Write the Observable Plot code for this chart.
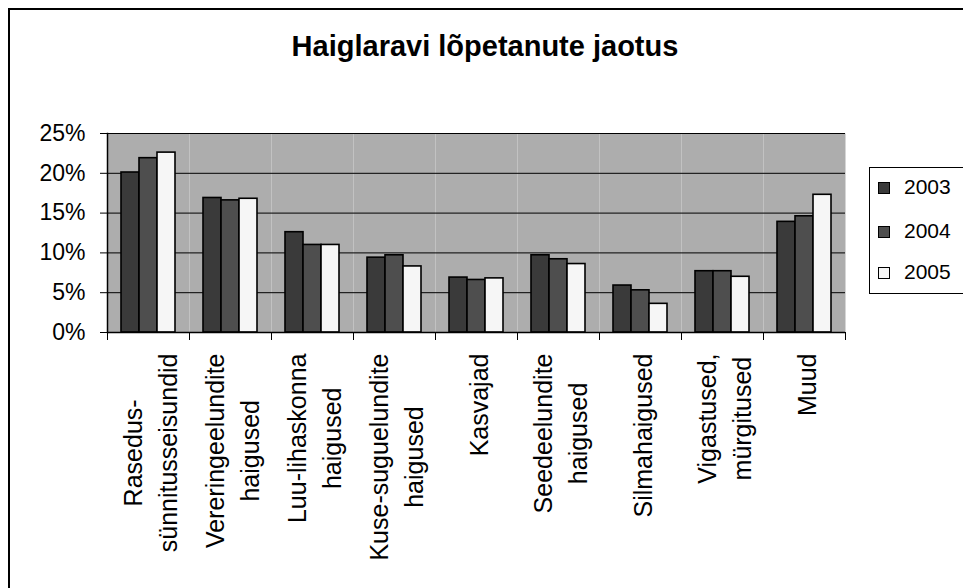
<!DOCTYPE html>
<html>
<head>
<meta charset="utf-8">
<script src="https://cdn.jsdelivr.net/npm/d3@7"></script>
<script src="https://cdn.jsdelivr.net/npm/@observablehq/plot@0.6"></script>
<style>
  html, body { margin: 0; padding: 0; background: #fff; overflow: hidden; }
  #wrap { position: relative; width: 963px; height: 588px; font-family: "Liberation Sans", Arial, sans-serif; }
  #border { position: absolute; left: 8px; top: 8px; width: 1000px; height: 1000px; border-left: 2px solid #000; border-top: 2px solid #000; }
  #title { position: absolute; left: 0; top: 32px; width: 970px; text-align: center; font-weight: bold; font-size: 29px; line-height: 29px; color: #000; }
  #chart { position: absolute; left: 0; top: 0; }
  #legend { position: absolute; left: 869px; top: 167px; width: 120px; height: 125px; border: 1px solid #000; background: #fff; }
  .row { position: absolute; left: 0; font-size: 21px; line-height: 21px; color: #000; white-space: nowrap; }
  .sw { position: absolute; left: 8px; top: 6px; width: 10px; height: 10px; border: 1px solid #000; }
  .lab { position: absolute; left: 34px; top: 0; }
</style>
</head>
<body>
<div id="wrap">
  <div id="border"></div>
  <div id="chart"></div>
  <div id="title">Haiglaravi lõpetanute jaotus</div>
  <div id="legend"></div>
</div>
<script>
// ---- data ----
const categories = [
  "Rasedus-\nsünnitusseisundid",
  "Vereringeelundite\nhaigused",
  "Luu-lihaskonna\nhaigused",
  "Kuse-suguelundite\nhaigused",
  "Kasvajad",
  "Seedeelundite\nhaigused",
  "Silmahaigused",
  "Vigastused,\nmürgitused",
  "Muud"
];
const years = ["2003", "2004", "2005"];
const values2003 = [20.1, 16.9, 12.6, 9.4, 6.9, 9.7, 5.9, 7.7, 13.9];
const values2004 = [21.9, 16.6, 11.0, 9.7, 6.6, 9.2, 5.3, 7.7, 14.6];
const values2005 = [22.6, 16.8, 11.0, 8.3, 6.8, 8.6, 3.6, 7.0, 17.3];
const yTicks = [0, 5, 10, 15, 20, 25];
const seriesColors = ["#3a3a3a", "#4e4e4e", "#f6f6f6"];

const series = [values2003, values2004, values2005];
const rows = [];
categories.forEach((c, i) => {
  years.forEach((y, j) => rows.push({cat: c, year: y, value: series[j][i]}));
});

const W = 963, H = 588;
const mTop = 133, mBottom = 256, mLeft = 105, mRight = 116;
const plotH = H - mTop - mBottom;

const chart = Plot.plot({
  width: W,
  height: H,
  marginTop: mTop,
  marginBottom: mBottom,
  marginLeft: mLeft,
  marginRight: mRight,
  facet: {marginTop: 0, marginBottom: 0, marginLeft: 0, marginRight: 0},
  style: {fontFamily: "'Liberation Sans', Arial, sans-serif", background: "transparent", color: "#000", overflow: "visible"},
  fx: {domain: categories, padding: 0, label: null},
  x: {domain: years, paddingInner: 0, paddingOuter: 0.75, axis: null},
  y: {domain: [0, 25], label: null},
  color: {domain: years, range: seriesColors},
  marks: [
    Plot.frame({fill: "#adadad", stroke: "none"}),
    Plot.gridY(yTicks, {stroke: "#000", strokeOpacity: 1, strokeWidth: 1}),
    Plot.barY(rows, {fx: "cat", x: "year", y: "value", fill: "year", stroke: "#000", strokeWidth: 1.6}),
    Plot.ruleY([0], {stroke: "#000", strokeWidth: 1.5}),
    Plot.frame({anchor: "left", facetAnchor: "left", stroke: "#000", strokeWidth: 1.5}),
    Plot.frame({anchor: "left", insetTop: plotH, insetBottom: -7, stroke: "#000", strokeWidth: 1}),
    Plot.frame({anchor: "right", facetAnchor: "right", insetTop: plotH, insetBottom: -7, stroke: "#000", strokeWidth: 1}),
    Plot.axisY({ticks: yTicks, tickFormat: d => d + "%", tickSize: 7, tickPadding: 15, fontSize: 23, label: null}),
    Plot.axisFx({anchor: "bottom", tickRotate: -90, tickSize: 0, tickPadding: 21, fontSize: 25, lineHeight: 1.4, label: null})
  ]
});
document.getElementById("chart").append(chart);

// center multi-line rotated category labels on their longest line
chart.querySelectorAll('g[aria-label="fx-axis tick label"] text').forEach(t => {
  const spans = t.querySelectorAll("tspan");
  if (spans.length > 1) {
    const L = Math.max(...Array.from(spans, s => s.getComputedTextLength()));
    spans.forEach(s => s.setAttribute("x", -L / 2));
    t.setAttribute("text-anchor", "middle");
  }
});

// legend
const legend = document.getElementById("legend");
const rowTops = [8, 52, 93];
years.forEach((y, j) => {
  const r = document.createElement("div");
  r.className = "row";
  r.style.top = rowTops[j] + "px";
  const sw = document.createElement("div");
  sw.className = "sw";
  sw.style.background = seriesColors[j];
  const lab = document.createElement("span");
  lab.className = "lab";
  lab.textContent = y;
  r.append(sw, lab);
  legend.append(r);
});
</script>
</body>
</html>
